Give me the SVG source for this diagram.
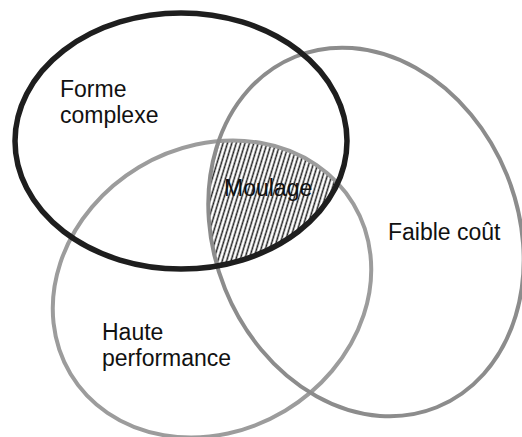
<svg xmlns="http://www.w3.org/2000/svg" width="522" height="437" viewBox="0 0 522 437">
<style>
.lbl{font-family:"Liberation Sans",Arial,sans-serif;font-size:23px;fill:#111}
.ring{fill:none}
</style>
<defs>
<pattern id="hatch" width="4.2" height="4.2" patternUnits="userSpaceOnUse" patternTransform="rotate(-42)">
<rect width="4.2" height="4.2" fill="#fff"/>
<line x1="0" y1="1.2" x2="4.2" y2="1.2" stroke="#222" stroke-width="1.5"/>
</pattern>
<clipPath id="clipA"><ellipse cx="181" cy="141" rx="166" ry="128"/></clipPath>
<clipPath id="clipC"><ellipse cx="366" cy="232" rx="152" ry="189" transform="rotate(-22 366 232)"/></clipPath>
</defs>
<rect width="522" height="437" fill="#fff"/>
<g id="moulage-zone" clip-path="url(#clipA)">
<g clip-path="url(#clipC)">
<ellipse cx="212" cy="289" rx="165" ry="142" transform="rotate(-31 212 289)" fill="url(#hatch)"/>
</g>
</g>
<g id="haute-performance">
<ellipse class="ring" cx="212" cy="289" rx="165" ry="142" transform="rotate(-31 212 289)" stroke="#9c9c9c" stroke-width="4"/>
<text class="lbl" x="102" y="340">Haute</text>
<text class="lbl" x="102" y="366">performance</text>
</g>
<g id="faible-cout">
<ellipse class="ring" cx="366" cy="232" rx="152" ry="189" transform="rotate(-22 366 232)" stroke="#8c8c8c" stroke-width="4"/>
<text class="lbl" x="388" y="240">Faible coût</text>
</g>
<g id="forme-complexe">
<ellipse class="ring" cx="181" cy="141" rx="166" ry="128" stroke="#1e1e1e" stroke-width="5.5"/>
<text class="lbl" x="60" y="97">Forme</text>
<text class="lbl" x="60" y="123">complexe</text>
</g>
<g id="moulage">
<text class="lbl" x="224" y="196">Moulage</text>
</g>
</svg>
